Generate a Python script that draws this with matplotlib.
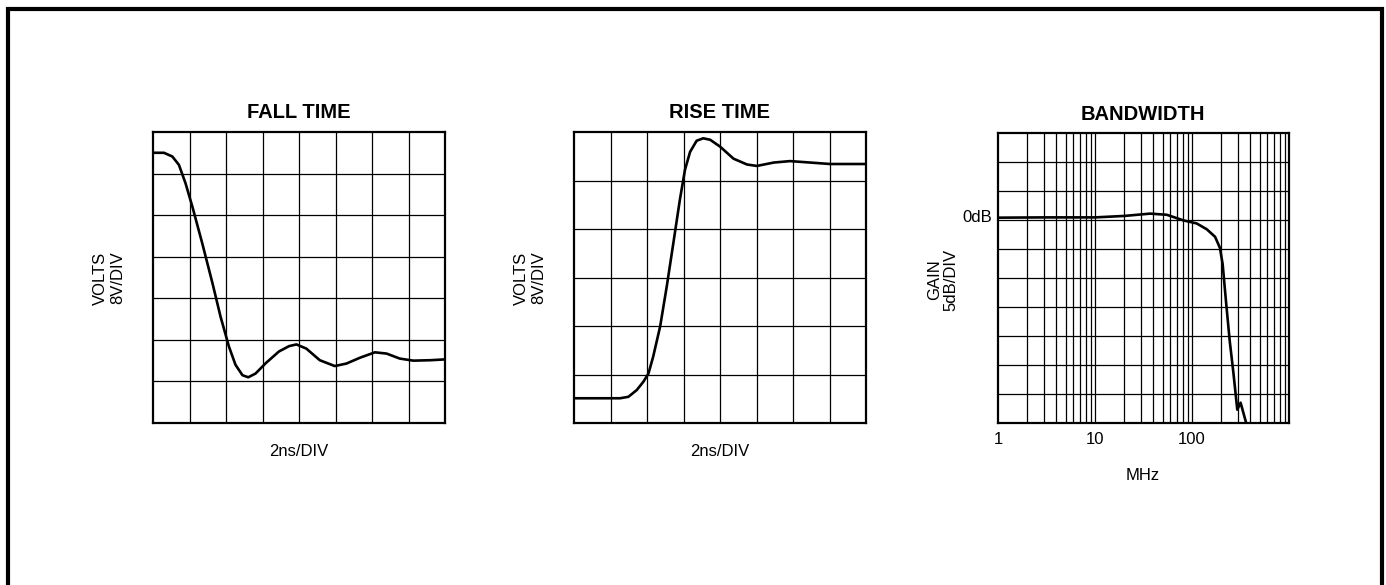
import numpy as np
import matplotlib
matplotlib.use("Agg")
import matplotlib.pyplot as plt
from matplotlib.patches import Rectangle

plt.rcParams['font.family'] = ['Liberation Sans', 'DejaVu Sans']

# ---- data (in grid divisions) ----
fall_t = [0, 0.3, 0.53, 0.71, 0.89, 1.08, 1.35, 1.63, 1.85, 2.08, 2.26, 2.45, 2.61, 2.81, 3.09, 3.45, 3.73,
          3.93, 4.2, 4.57, 4.98, 5.30, 5.67, 6.08, 6.40, 6.76, 7.13, 7.59, 8.0]
fall_v = [6.50, 6.50, 6.41, 6.21, 5.77, 5.20, 4.32, 3.36, 2.56, 1.84, 1.40, 1.15, 1.10, 1.19, 1.44, 1.72, 1.85,
          1.89, 1.79, 1.51, 1.37, 1.43, 1.57, 1.70, 1.67, 1.55, 1.50, 1.51, 1.53]

rise_t = [0, 1.26, 1.49, 1.72, 1.90, 2.04, 2.17, 2.36, 2.54, 2.72, 2.90, 3.04, 3.18, 3.36, 3.54, 3.73, 4.0,
          4.37, 4.74, 5.01, 5.47, 5.92, 6.47, 7.02, 8.0]
rise_v = [0.51, 0.51, 0.54, 0.68, 0.85, 1.02, 1.37, 1.99, 2.81, 3.70, 4.60, 5.22, 5.59, 5.82, 5.87, 5.84, 5.70,
          5.45, 5.33, 5.30, 5.37, 5.40, 5.37, 5.34, 5.34]

bw_f = [1, 3, 10, 20, 37, 55, 81, 112, 142, 173, 194, 207, 224, 245, 267, 293, 317, 366]
bw_db = [0.4, 0.45, 0.45, 0.7, 1.1, 0.9, -0.05, -0.6, -1.6, -2.9, -4.8, -7.6, -14.0, -20.9, -26.3, -32.7,
         -31.5, -35.3]

bw_ticks = [1, 10, 100]
bw_ticklabels = ['1', '10', '100']

W, H = 1386, 585
fig = plt.figure(figsize=(W / 100, H / 100), dpi=100)

# outer frame
fig.patches.append(Rectangle((8 / W, -0.05), (1382 - 8) / W, 1.05 - 8.5 / H,
                             transform=fig.transFigure, fill=False, lw=3.0, ec='black'))

def px_axes(l, t, r, b):
    return fig.add_axes([l / W, 1 - b / H, (r - l) / W, (b - t) / H])

def ftext(x, y, s, **kw):
    kw.setdefault('ha', 'center')
    kw.setdefault('va', 'center')
    kw.setdefault('fontsize', 12)
    return fig.text(x / W, 1 - y / H, s, **kw)

grid_kw = dict(color='black', lw=0.9)

def style(ax):
    for s in ax.spines.values():
        s.set_linewidth(1.6)
    ax.tick_params(length=0)

# ---- FALL TIME ----
ax1 = px_axes(153, 132, 445, 423)
ax1.set_xlim(0, 8); ax1.set_ylim(0, 7)
for i in range(1, 8):
    ax1.axvline(i, **grid_kw)
for j in range(1, 7):
    ax1.axhline(j, **grid_kw)
ax1.plot(fall_t, fall_v, color='black', lw=1.9, solid_joinstyle='round', solid_capstyle='round')
ax1.set_xticks([]); ax1.set_yticks([])
style(ax1)
ftext(299, 113, 'FALL TIME', fontsize=14.5, fontweight='bold')
ftext(299, 452, '2ns/DIV')
ftext(100, 278, 'VOLTS', rotation=90)
ftext(118, 278, '8V/DIV', rotation=90)

# ---- RISE TIME ----
ax2 = px_axes(574, 132, 866, 423)
ax2.set_xlim(0, 8); ax2.set_ylim(0, 6)
for i in range(1, 8):
    ax2.axvline(i, **grid_kw)
for j in range(1, 6):
    ax2.axhline(j, **grid_kw)
ax2.plot(rise_t, rise_v, color='black', lw=1.9, solid_joinstyle='round', solid_capstyle='round')
ax2.set_xticks([]); ax2.set_yticks([])
style(ax2)
ftext(720, 113, 'RISE TIME', fontsize=14.5, fontweight='bold')
ftext(720, 452, '2ns/DIV')
ftext(521, 278, 'VOLTS', rotation=90)
ftext(539, 278, '8V/DIV', rotation=90)

# ---- BANDWIDTH ----
ax3 = px_axes(998, 133, 1289, 423)
ax3.set_xscale('log')
ax3.set_xlim(1, 1000); ax3.set_ylim(-35, 15)
for dec in [1, 10, 100]:
    for m in range(1, 10):
        v = dec * m
        if v > 1:
            ax3.axvline(v, **grid_kw)
for j in range(-30, 15, 5):
    ax3.axhline(j, **grid_kw)
ax3.plot(bw_f, bw_db, color='black', lw=1.9, solid_joinstyle='round', solid_capstyle='round')
ax3.set_xticks(bw_ticks)
ax3.set_xticklabels([])
ax3.xaxis.set_minor_locator(matplotlib.ticker.NullLocator())
ax3.set_yticks([0])
ax3.set_yticklabels([])
style(ax3)
for t, lab in zip(bw_ticks, bw_ticklabels):
    xd, _ = ax3.transData.transform((t, 0))
    fig.text(xd / fig.dpi / fig.get_figwidth(), 1 - 440 / H, lab, ha='center', va='center', fontsize=12)
_, y0 = ax3.transData.transform((1, 0))
fig.text(992 / W, y0 / fig.dpi / fig.get_figheight() + 0.004, '0dB', ha='right', va='center', fontsize=12)
ftext(1143, 115, 'BANDWIDTH', fontsize=14.5, fontweight='bold')
ftext(1143, 475, 'MHz')
ftext(935, 280, 'GAIN', rotation=90)
ftext(951, 280, '5dB/DIV', rotation=90)

fig.savefig('out.png', dpi=100, facecolor='white')
